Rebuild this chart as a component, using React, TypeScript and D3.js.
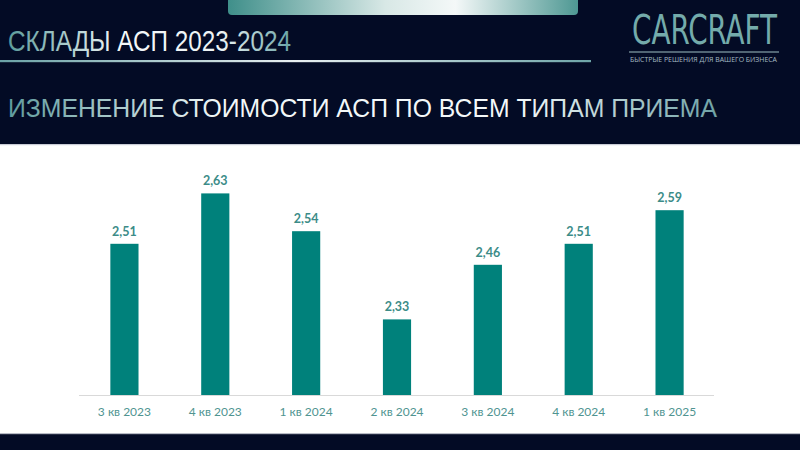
import React from "react";
import * as d3 from "d3";

const categories = ["3 кв 2023", "4 кв 2023", "1 кв 2024", "2 кв 2024", "3 кв 2024", "4 кв 2024", "1 кв 2025"];
const values = [2.51, 2.63, 2.54, 2.33, 2.46, 2.51, 2.59];
const valueLabels = ["2,51", "2,63", "2,54", "2,33", "2,46", "2,51", "2,59"];

const title = "СКЛАДЫ АСП 2023-2024";
const subtitle = "ИЗМЕНЕНИЕ СТОИМОСТИ АСП ПО ВСЕМ ТИПАМ ПРИЕМА";
const logo = "CARCRAFT";
const slogan = "БЫСТРЫЕ РЕШЕНИЯ ДЛЯ ВАШЕГО БИЗНЕСА";

const W = 800;
const H = 450;
const BG = "#030b25";
const BAR = "#00817b";

export default function App() {
  const x = d3.scaleBand<string>().domain(categories).range([79, 715]).paddingInner(0.69).paddingOuter(0.345);
  const y = d3.scaleLinear().domain([2.15, 2.75]).range([395, 143]);
  const narrow = "'Liberation Sans Narrow', 'Liberation Sans', Arial, sans-serif";
  const body = "Lato, 'Open Sans', sans-serif";

  return (
    <svg width={W} height={H} style={{ position: "absolute", left: 0, top: 0, display: "block" }}>
      <defs>
        <linearGradient id="topbar" x1="0" x2="1" y1="0" y2="0">
          <stop offset="0" stopColor="#3f8f8a" />
          <stop offset="0.45" stopColor="#d8e8e6" />
          <stop offset="0.65" stopColor="#f4f8f8" />
          <stop offset="1" stopColor="#4e9893" />
        </linearGradient>
        <linearGradient id="titleGrad" x1="0" x2="1" y1="0" y2="0">
          <stop offset="0" stopColor="#5c9c9c" />
          <stop offset="0.4" stopColor="#f4f8f9" />
          <stop offset="0.75" stopColor="#eef4f5" />
          <stop offset="1" stopColor="#6aa4a6" />
        </linearGradient>
        <linearGradient id="subGrad" x1="0" x2="1" y1="0" y2="0">
          <stop offset="0" stopColor="#5f9c9e" />
          <stop offset="0.3" stopColor="#f2f7f8" />
          <stop offset="0.72" stopColor="#f4f8f9" />
          <stop offset="1" stopColor="#6fa3a6" />
        </linearGradient>
        <linearGradient id="lineGrad" x1="0" x2="1" y1="0" y2="0">
          <stop offset="0" stopColor="#6aa2a6" />
          <stop offset="0.5" stopColor="#e9f0f2" />
          <stop offset="1" stopColor="#6ea5a8" />
        </linearGradient>
      </defs>
      <rect x={0} y={0} width={W} height={H} fill={BG} />
      {/* top decorative bar */}
      <path d="M228,0 H578 V11 Q578,15 574,15 H232 Q228,15 228,11 Z" fill="url(#topbar)" />
      {/* title */}
      <text x={8} y={51} fontFamily={narrow} fontSize={29} fill="url(#titleGrad)" textLength={283} lengthAdjust="spacingAndGlyphs">
        {title}
      </text>
      <rect x={0} y={60} width={591} height={2.2} fill="url(#lineGrad)" />
      {/* logo */}
      <g transform="translate(632,44) scale(1,1.25)">
        <text x={0} y={0} fontFamily="'DejaVu Sans ExtraLight', 'DejaVu Sans Condensed', 'DejaVu Sans', sans-serif" fontWeight={200} fontSize={32} fill="#74abab" textLength={145} lengthAdjust="spacingAndGlyphs">
          {logo}
        </text>
      </g>
      <rect x={629} y={51.5} width={150} height={1} fill="#9fbfc3" />
      <text x={630} y={62} fontFamily="'Open Sans', sans-serif" fontSize={7.2} fill="#a5bcc4" textLength={147} lengthAdjust="spacingAndGlyphs">
        {slogan}
      </text>
      {/* subtitle */}
      <text x={8} y={117} fontFamily={narrow} fontSize={26.5} fill="url(#subGrad)" textLength={709} lengthAdjust="spacingAndGlyphs">
        {subtitle}
      </text>
      {/* white panel */}
      <rect x={0} y={145} width={W} height={289} fill="#ffffff" />
      <rect x={0} y={144} width={W} height={1.2} fill="#c9ccd6" />
      <rect x={0} y={433} width={W} height={1.2} fill="#b9bcc6" />
      {/* bars */}
      {categories.map((c, i) => (
        <rect key={c} x={x(c)} y={y(values[i])} width={x.bandwidth()} height={y(2.15) - y(values[i])} fill={BAR} />
      ))}
      {/* axis */}
      <line x1={79} x2={714} y1={395.5} y2={395.5} stroke="#d9d9d9" strokeWidth={1} />
      {categories.map((c, i) => (
        <text key={"l" + c} x={(x(c) as number) + x.bandwidth() / 2} y={y(values[i]) - 8} textAnchor="middle" fontFamily={body} fontWeight={700} fontSize={12.5} fill="#3c8c88">
          {valueLabels[i]}
        </text>
      ))}
      {categories.map((c) => (
        <text key={"t" + c} x={(x(c) as number) + x.bandwidth() / 2} y={416} textAnchor="middle" fontFamily={body} fontSize={12} fill="#4f9491">
          {c}
        </text>
      ))}
    </svg>
  );
}
